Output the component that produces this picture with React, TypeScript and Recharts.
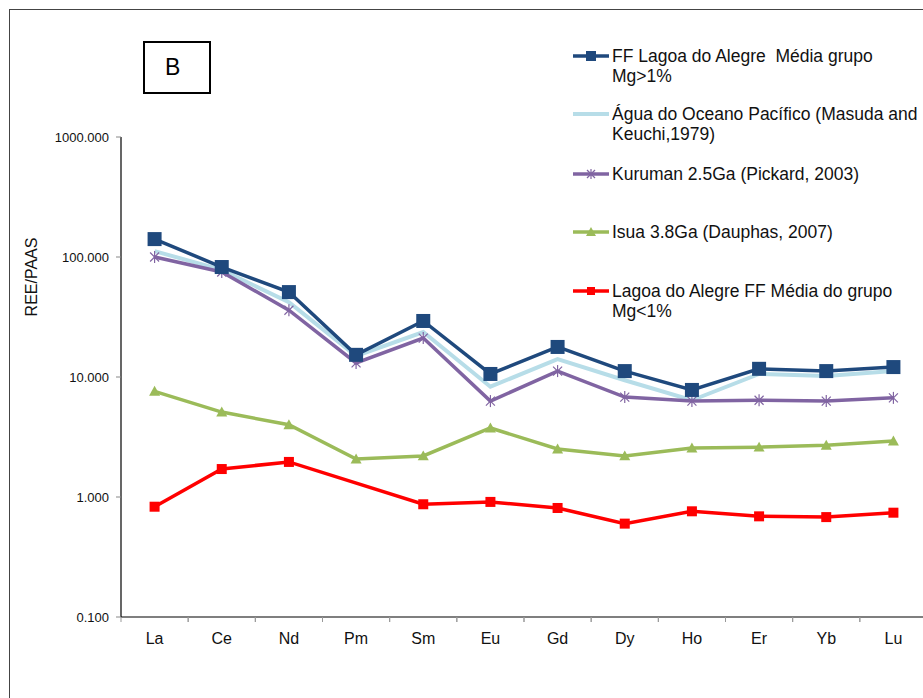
import { LineChart, Line, XAxis, YAxis } from "recharts";

const elements = ["La", "Ce", "Nd", "Pm", "Sm", "Eu", "Gd", "Dy", "Ho", "Er", "Yb", "Lu"];
const ffMgHigh = [141, 82.5, 51, 15.3, 29.3, 10.6, 17.8, 11.2, 7.8, 11.7, 11.2, 12.1];
const pacificWater = [112, 78, 42, 15, 23.7, 8.3, 14.1, 9.4, 6.4, 10.6, 10.2, 11.2];
const kuruman = [100, 75, 36, 13.1, 21.1, 6.3, 11.2, 6.8, 6.3, 6.4, 6.3, 6.7];
const isua = [7.6, 5.1, 4.0, 2.07, 2.2, 3.76, 2.51, 2.2, 2.56, 2.6, 2.7, 2.93];
const ffMgLow = [0.83, 1.71, 1.96, null, 0.87, 0.91, 0.81, 0.6, 0.76, 0.69, 0.68, 0.74];
const yTicks = [0.1, 1, 10, 100, 1000];

const FONT = '"Liberation Sans", Arial, sans-serif';
const C_FF = "#1F497D";
const C_WATER = "#B7DDE8";
const C_KUR = "#8064A2";
const C_ISUA = "#9BBB59";
const C_RED = "#FF0000";

const data = elements.map((el, i) => ({
  el,
  ff: ffMgHigh[i],
  water: pacificWater[i],
  kur: kuruman[i],
  isua: isua[i],
  red: ffMgLow[i],
}));

const CHART_W = 940;
const MARGIN = { top: 137, right: 13, bottom: 51, left: 0 };
const Y_W = 121;
const HALF_BAND = (CHART_W - MARGIN.left - MARGIN.right - Y_W) / elements.length / 2;

const empty = (p: any) => <g key={`e-${p.index}`} />;

const squareDot = (size: number, fill: string) => (p: any) =>
  p.cx == null || p.cy == null || p.value == null ? (
    empty(p)
  ) : (
    <rect key={`s-${p.index}`} x={p.cx - size / 2} y={p.cy - size / 2} width={size} height={size} fill={fill} />
  );

const starDot = (p: any) => {
  if (p.cx == null || p.cy == null) return empty(p);
  const r = 6;
  const d = r * 0.75;
  return (
    <g key={`k-${p.index}`} stroke={C_KUR} strokeWidth={1.2}>
      <line x1={p.cx} y1={p.cy - r} x2={p.cx} y2={p.cy + r} />
      <line x1={p.cx - d} y1={p.cy - d} x2={p.cx + d} y2={p.cy + d} />
      <line x1={p.cx - d} y1={p.cy + d} x2={p.cx + d} y2={p.cy - d} />
    </g>
  );
};

const triDot = (p: any) => {
  if (p.cx == null || p.cy == null) return empty(p);
  const s = 5.5;
  return (
    <polygon
      key={`t-${p.index}`}
      points={`${p.cx},${p.cy - s} ${p.cx + s},${p.cy + s * 0.8} ${p.cx - s},${p.cy + s * 0.8}`}
      fill={C_ISUA}
    />
  );
};

function XTick(props: any) {
  const { x, y, payload } = props;
  const axisY = y - 8;
  return (
    <g>
      <line x1={x - HALF_BAND} y1={axisY} x2={x - HALF_BAND} y2={axisY + 5} stroke="#999" />
      <line x1={x + HALF_BAND} y1={axisY} x2={x + HALF_BAND} y2={axisY + 5} stroke="#999" />
      <text x={x} y={axisY + 21} textAnchor="middle" dominantBaseline="central" fontSize={16} fill="#111" fontFamily={FONT}>
        {payload.value}
      </text>
    </g>
  );
}

type LegendItem = { lines: string[]; color: string; width: number; marker: string; center: number };
const legendItems: LegendItem[] = [
  { lines: ["FF Lagoa do Alegre  Média grupo", "Mg>1%"], color: C_FF, width: 3.5, marker: "square", center: 56 },
  { lines: ["Água do Oceano Pacífico (Masuda and", "Keuchi,1979)"], color: C_WATER, width: 4, marker: "none", center: 114 },
  { lines: ["Kuruman 2.5Ga (Pickard, 2003)"], color: C_KUR, width: 3.5, marker: "star", center: 174 },
  { lines: ["Isua 3.8Ga (Dauphas, 2007)"], color: C_ISUA, width: 3.5, marker: "tri", center: 232 },
  { lines: ["Lagoa do Alegre FF Média do grupo", "Mg<1%"], color: C_RED, width: 3.5, marker: "smallsquare", center: 291 },
];

function LegendIcon({ item }: { item: LegendItem }) {
  const cx = 18;
  const cy = 10;
  return (
    <svg width={36} height={20} style={{ position: "absolute", left: 0, top: 0 }}>
      <line x1={0} y1={cy} x2={36} y2={cy} stroke={item.color} strokeWidth={item.width} />
      {item.marker === "square" && <rect x={cx - 5} y={cy - 5} width={10} height={10} fill={item.color} />}
      {item.marker === "smallsquare" && <rect x={cx - 4} y={cy - 4} width={8} height={8} fill={item.color} />}
      {item.marker === "tri" && (
        <polygon points={`${cx},${cy - 5} ${cx + 5},${cy + 4} ${cx - 5},${cy + 4}`} fill={item.color} />
      )}
      {item.marker === "star" && (
        <g stroke={item.color} strokeWidth={1.2}>
          <line x1={cx} y1={cy - 5} x2={cx} y2={cy + 5} />
          <line x1={cx - 4} y1={cy - 4} x2={cx + 4} y2={cy + 4} />
          <line x1={cx - 4} y1={cy + 4} x2={cx + 4} y2={cy - 4} />
        </g>
      )}
    </svg>
  );
}

export default function App() {
  return (
    <div
      style={{
        position: "fixed",
        left: 0,
        top: 0,
        width: 923,
        height: 698,
        overflow: "hidden",
        background: "#fff",
        fontFamily: FONT,
      }}
    >
      <div
        style={{
          position: "absolute",
          left: 9,
          top: 9,
          width: 1000,
          height: 1000,
          border: "1px solid #444",
        }}
      />
      <div
        style={{
          position: "absolute",
          left: 143,
          top: 41,
          width: 68,
          height: 53,
          boxSizing: "border-box",
          border: "2px solid #000",
          fontSize: 23,
          lineHeight: "49px",
          paddingLeft: 20,
          color: "#000",
        }}
      >
        B
      </div>
      <div
        style={{
          position: "absolute",
          left: 32,
          top: 277,
          transform: "translate(-50%, -50%) rotate(-90deg)",
          whiteSpace: "nowrap",
          fontSize: 16,
          color: "#111",
        }}
      >
        REE/PAAS
      </div>
      <div style={{ position: "absolute", left: 0, top: 0 }}>
        <LineChart width={CHART_W} height={698} data={data} margin={MARGIN}>
          <XAxis
            dataKey="el"
            height={30}
            padding={{ left: HALF_BAND, right: HALF_BAND }}
            tickLine={false}
            tickSize={6}
            tickMargin={2}
            axisLine={{ stroke: "#000", strokeWidth: 1.2 }}
            tick={<XTick />}
            interval={0}
          />
          <YAxis
            width={Y_W}
            scale="log"
            domain={[0.1, 1000]}
            ticks={yTicks}
            allowDataOverflow
            tickSize={5}
            tickMargin={7}
            tickLine={{ stroke: "#888" }}
            axisLine={{ stroke: "#000", strokeWidth: 1.2 }}
            tick={{ fill: "#111", fontSize: 13, fontFamily: FONT }}
            tickFormatter={(v: number) => v.toFixed(3)}
          />
          <Line dataKey="water" stroke={C_WATER} strokeWidth={4} dot={false} isAnimationActive={false} />
          <Line dataKey="kur" stroke={C_KUR} strokeWidth={3.5} dot={starDot} activeDot={false} isAnimationActive={false} />
          <Line dataKey="ff" stroke={C_FF} strokeWidth={3.5} dot={squareDot(14, C_FF)} activeDot={false} isAnimationActive={false} />
          <Line dataKey="isua" stroke={C_ISUA} strokeWidth={3.5} dot={triDot} activeDot={false} isAnimationActive={false} />
          <Line
            dataKey="red"
            stroke={C_RED}
            strokeWidth={3.5}
            connectNulls
            dot={squareDot(10, C_RED)}
            activeDot={false}
            isAnimationActive={false}
          />
        </LineChart>
      </div>
      {legendItems.map((item) => (
        <div
          key={item.lines[0]}
          style={{ position: "absolute", left: 573, top: item.center - 10, whiteSpace: "pre" }}
        >
          <LegendIcon item={item} />
          <div style={{ marginLeft: 39, fontSize: 17.5, lineHeight: "20px", color: "#111" }}>
            {item.lines.map((l) => (
              <div key={l}>{l}</div>
            ))}
          </div>
        </div>
      ))}
    </div>
  );
}
